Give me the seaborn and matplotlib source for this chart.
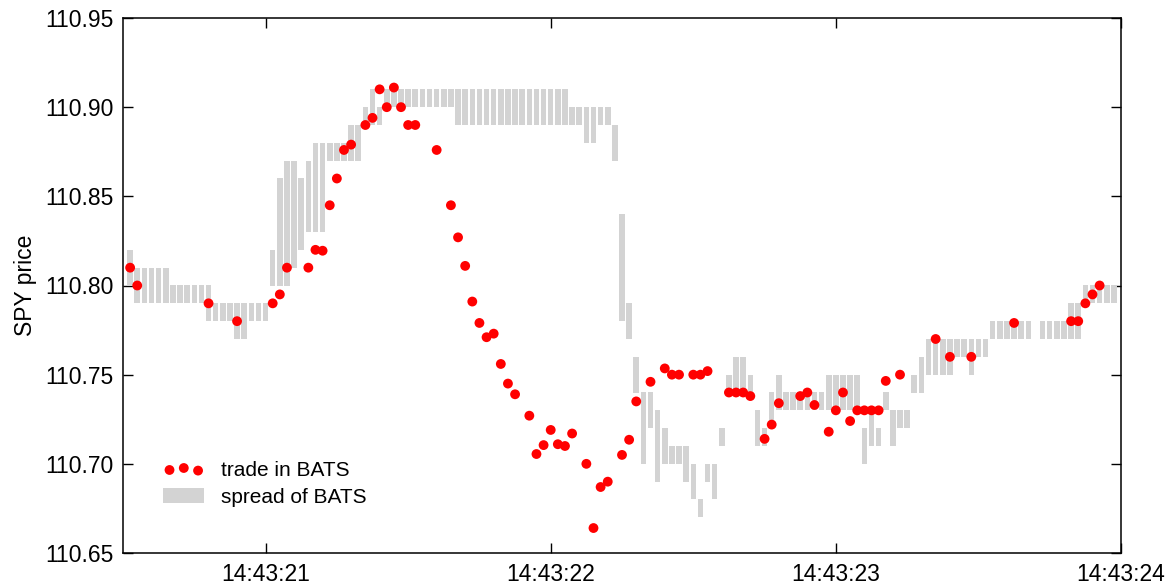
import numpy as np
import pandas as pd
import matplotlib
matplotlib.use("Agg")
import matplotlib.pyplot as plt
import seaborn as sns
from matplotlib.patches import Patch
from matplotlib.ticker import FormatStrFormatter

# ---------------- data ----------------
# spread bins (ms after 14:43:00), lowest and highest quoted price within the bin
spread_ms = [
    20525, 20550, 20575, 20600, 20625, 20650, 20675, 20700, 20725, 20750,
    20775, 20800, 20825, 20850, 20875, 20900, 20925, 20950, 20975, 21000,
    21025, 21050, 21075, 21100, 21125, 21150, 21175, 21200, 21225, 21250,
    21275, 21300, 21325, 21350, 21375, 21400, 21425, 21450, 21475, 21500,
    21525, 21550, 21575, 21600, 21625, 21650, 21675, 21700, 21725, 21750,
    21775, 21800, 21825, 21850, 21875, 21900, 21925, 21950, 21975, 22000,
    22025, 22050, 22075, 22100, 22125, 22150, 22175, 22200, 22225, 22250,
    22275, 22300, 22325, 22350, 22375, 22400, 22425, 22450, 22475, 22500,
    22525, 22550, 22575, 22600, 22625, 22650, 22675, 22700, 22725, 22750,
    22775, 22800, 22825, 22850, 22875, 22900, 22925, 22950, 22975, 23000,
    23025, 23050, 23075, 23100, 23125, 23150, 23175, 23200, 23225, 23250,
    23275, 23300, 23325, 23350, 23375, 23400, 23425, 23450, 23475, 23500,
    23525, 23550, 23575, 23600, 23625, 23650, 23675,
    23725, 23750, 23775, 23800, 23825, 23850, 23875, 23900, 23925, 23950,
    23975,
]
spread_lo = [
    110.80, 110.79, 110.79, 110.79, 110.79, 110.79, 110.79, 110.79, 110.79, 110.79,
    110.79, 110.78, 110.78, 110.78, 110.78, 110.77, 110.77, 110.78, 110.78, 110.78,
    110.80, 110.80, 110.80, 110.81, 110.82, 110.83, 110.83, 110.83, 110.87, 110.87,
    110.87, 110.87, 110.87, 110.89, 110.89, 110.89, 110.90, 110.90, 110.90, 110.90,
    110.90, 110.90, 110.90, 110.90, 110.90, 110.90, 110.89, 110.89, 110.89, 110.89,
    110.89, 110.89, 110.89, 110.89, 110.89, 110.89, 110.89, 110.89, 110.89, 110.89,
    110.89, 110.89, 110.89, 110.89, 110.88, 110.88, 110.89, 110.89, 110.87, 110.78,
    110.77, 110.74, 110.70, 110.72, 110.69, 110.70, 110.70, 110.70, 110.69, 110.68,
    110.67, 110.69, 110.68, 110.71, 110.74, 110.74, 110.74, 110.74, 110.71, 110.71,
    110.72, 110.73, 110.73, 110.73, 110.73, 110.73, 110.73, 110.73, 110.73, 110.73,
    110.73, 110.73, 110.73, 110.70, 110.71, 110.71, 110.73, 110.71, 110.72, 110.72,
    110.74, 110.74, 110.75, 110.75, 110.75, 110.75, 110.76, 110.76, 110.75, 110.76,
    110.76, 110.77, 110.77, 110.77, 110.77, 110.77, 110.77,
    110.77, 110.77, 110.77, 110.77, 110.77, 110.77, 110.79, 110.79, 110.79, 110.79,
    110.79,
]
spread_hi = [
    110.82, 110.81, 110.81, 110.81, 110.81, 110.81, 110.80, 110.80, 110.80, 110.80,
    110.80, 110.80, 110.79, 110.79, 110.79, 110.79, 110.79, 110.79, 110.79, 110.79,
    110.82, 110.86, 110.87, 110.87, 110.86, 110.87, 110.88, 110.88, 110.88, 110.88,
    110.88, 110.89, 110.89, 110.90, 110.91, 110.90, 110.91, 110.91, 110.91, 110.91,
    110.91, 110.91, 110.91, 110.91, 110.91, 110.91, 110.91, 110.91, 110.91, 110.91,
    110.91, 110.91, 110.91, 110.91, 110.91, 110.91, 110.91, 110.91, 110.91, 110.91,
    110.91, 110.91, 110.90, 110.90, 110.90, 110.90, 110.90, 110.90, 110.89, 110.84,
    110.79, 110.76, 110.74, 110.74, 110.73, 110.72, 110.71, 110.71, 110.71, 110.70,
    110.68, 110.70, 110.70, 110.72, 110.75, 110.76, 110.76, 110.75, 110.73, 110.72,
    110.74, 110.75, 110.74, 110.74, 110.74, 110.74, 110.74, 110.74, 110.75, 110.75,
    110.75, 110.75, 110.75, 110.72, 110.73, 110.72, 110.74, 110.73, 110.73, 110.73,
    110.75, 110.76, 110.77, 110.77, 110.77, 110.77, 110.77, 110.77, 110.77, 110.77,
    110.77, 110.78, 110.78, 110.78, 110.78, 110.78, 110.78,
    110.78, 110.78, 110.78, 110.78, 110.79, 110.79, 110.80, 110.80, 110.80, 110.80,
    110.80,
]

# trades (ms after 14:43:00) and trade prices
trade_ms = [
    20525, 20550, 20800, 20900, 21025, 21050, 21075, 21150, 21175, 21200,
    21225, 21250, 21275, 21300, 21350, 21375, 21400, 21425, 21450, 21475,
    21500, 21525, 21600, 21650, 21675, 21700, 21725, 21750, 21775, 21800,
    21825, 21850, 21875, 21925, 21950, 21975, 22000, 22025, 22050, 22075,
    22125, 22150, 22175, 22200, 22250, 22275, 22300, 22350, 22400, 22425,
    22450, 22500, 22525, 22550, 22625, 22650, 22675, 22700, 22750, 22775,
    22800, 22875, 22900, 22925, 22975, 23000, 23025, 23050, 23075, 23100,
    23125, 23150, 23175, 23225, 23350, 23400, 23475, 23625, 23825, 23850,
    23875, 23900, 23925,
]
trade_px = [
    110.81, 110.80, 110.79, 110.78, 110.79, 110.795, 110.81, 110.81, 110.82, 110.8195,
    110.845, 110.86, 110.876, 110.879, 110.89, 110.894, 110.91, 110.90, 110.911, 110.90,
    110.89, 110.89, 110.876, 110.845, 110.827, 110.811, 110.791, 110.779, 110.771, 110.773,
    110.756, 110.745, 110.739, 110.727, 110.7055, 110.7105, 110.719, 110.711, 110.710, 110.717,
    110.70, 110.664, 110.687, 110.690, 110.705, 110.7135, 110.735, 110.746, 110.7535, 110.75,
    110.75, 110.75, 110.75, 110.752, 110.74, 110.74, 110.74, 110.738, 110.714, 110.722,
    110.734, 110.738, 110.74, 110.733, 110.718, 110.73, 110.74, 110.724, 110.73, 110.73,
    110.73, 110.73, 110.7465, 110.75, 110.77, 110.76, 110.76, 110.779, 110.78, 110.78,
    110.79, 110.795, 110.80,
]

x_ticks = [21, 22, 23, 24]
x_tick_labels = ["14:43:21", "14:43:22", "14:43:23", "14:43:24"]
y_ticks = [110.65, 110.70, 110.75, 110.80, 110.85, 110.90, 110.95]
labels = ["trade in BATS", "spread of BATS"]
y_label = "SPY price"

# ---------------- style ----------------
SPREAD_COLOR = "#d3d3d3"
TRADE_COLOR = "#ff0000"

sns.set_theme(style="white")
plt.rcParams["font.family"] = ["Liberation Sans", "DejaVu Sans"]
plt.rcParams["text.color"] = "black"
plt.rcParams["axes.labelcolor"] = "black"
plt.rcParams["xtick.color"] = "black"
plt.rcParams["ytick.color"] = "black"

fig = plt.figure(figsize=(11.72, 5.86), dpi=100)
W, H = 1172, 586
ax = fig.add_axes([123 / W, 1 - 553 / H, (1121 - 123) / W, (553 - 18) / H])

spread_df = pd.DataFrame({
    "t": np.array(spread_ms) / 1000.0,
    "lo": np.array(spread_lo),
    "hi": np.array(spread_hi),
})
spread_df["h"] = spread_df["hi"] - spread_df["lo"]
spread_df = spread_df.sort_values("t").reset_index(drop=True)

sns.barplot(data=spread_df, x="t", y="h", native_scale=True, width=0.78,
            bottom=spread_df["lo"].values, color=SPREAD_COLOR, saturation=1,
            linewidth=0, errorbar=None, ax=ax, zorder=1)

trade_df = pd.DataFrame({"t": np.array(trade_ms) / 1000.0, "p": trade_px})
sns.scatterplot(data=trade_df, x="t", y="p", color=TRADE_COLOR, s=50,
                linewidth=0, edgecolor="none", ax=ax, zorder=3)

ax.set_xlim(20.5, 24.0)
ax.set_ylim(110.65, 110.95)
ax.set_xticks(x_ticks)
ax.set_xticklabels(x_tick_labels)
ax.set_yticks(y_ticks)
ax.yaxis.set_major_formatter(FormatStrFormatter("%.2f"))
ax.set_xlabel("")
ax.set_ylabel(y_label, fontsize=16.5)
ax.yaxis.set_label_coords(-0.086, 0.5)

ax.tick_params(axis="both", which="major", direction="in", length=7, width=1,
               top=True, right=True, bottom=True, left=True,
               labelsize=16.5, pad=7)
for sp in ax.spines.values():
    sp.set_color("black")
    sp.set_linewidth(1.1)
    sp.set_visible(True)

trade_handle = ax.collections[-1]
spread_handle = Patch(facecolor=SPREAD_COLOR, edgecolor="none")
ax.legend([trade_handle, spread_handle], labels,
          loc="lower left", bbox_to_anchor=(0.032, 0.071), borderaxespad=0,
          frameon=False, scatterpoints=3, scatteryoffsets=[0.42, 0.55, 0.38],
          handlelength=1.97, handleheight=0.75, handletextpad=0.8,
          labelspacing=0.35, fontsize=15)

fig.savefig("out.png", dpi=100)
